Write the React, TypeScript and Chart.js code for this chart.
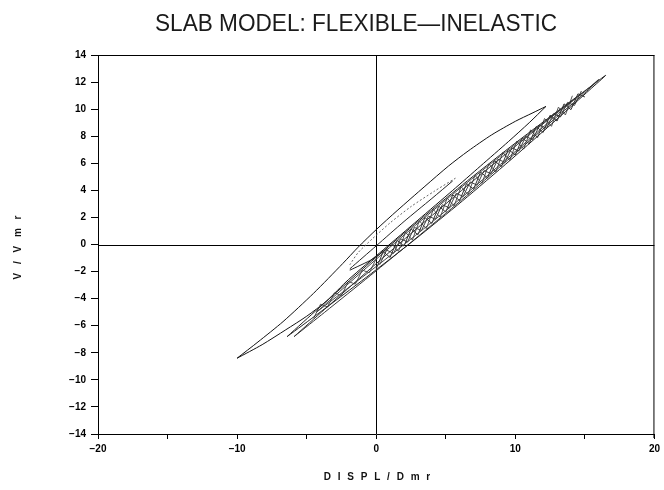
import React, { useEffect, useRef } from 'react';
import { Chart, registerables } from 'chart.js';

Chart.register(...registerables);

// ---- axis ranges / ticks ----
const xRange = [-20, 20];
const yRange = [-14, 14];
const xStep = 5;
const xLabelStep = 10;
const yStep = 2;

// ---- texts ----
const titleText = 'SLAB MODEL: FLEXIBLE\u2014INELASTIC';
const xTitle = 'D I S P L / D m r';
const yTitle = 'V / V m r';

// ---- series (DISPL/Dmr, V/Vmr) ----
const bigUpper = [
  [-10.0, -8.4], [-8.5, -7.2], [-6.7, -5.7], [-4.5, -3.6], [-2.4, -1.4], [-1.3, -0.2],
  [0.0, 1.1], [1.5, 2.5], [3.5, 4.3], [5.2, 5.8], [6.6, 6.9], [8.3, 8.1], [10.0, 9.1],
  [11.2, 9.7], [12.2, 10.2],
];
const bigReturn = [
  [12.2, 10.2], [11.0, 9.0], [9.5, 7.6], [7.5, 5.8], [5.5, 4.0], [3.0, 1.8], [0.5, -0.4],
  [-2.0, -2.6], [-3.6, -4.2], [-5.0, -5.3], [-6.5, -6.3], [-8.2, -7.4], [-10.0, -8.4],
];
const smallA = [[-1.9, -1.8], [0.0, -0.1], [2.0, 1.7], [4.0, 3.4], [5.5, 4.7]];
const smallB = [[5.7, 4.9], [4.2, 3.95], [2.5, 2.8], [1.0, 1.6], [-0.3, 0.4], [-1.3, -0.6], [-1.9, -1.5]];
const smallC = [[-1.9, -1.9], [-0.3, -1.1], [0.8, -0.3]];
const loopA = [
  [-6.4, -6.8], [-4.11, -5.06], [-0.68, -2.4], [2.76, 0.35], [6.2, 3.22], [9.63, 6.22],
  [13.07, 9.33], [15.36, 11.44], [16.5, 12.5], [15.36, 11.63], [13.07, 9.88], [9.63, 7.2],
  [6.2, 4.41], [2.76, 1.49], [-0.68, -1.55], [-4.11, -4.68], [-6.4, -6.8],
];
const loopB = [
  [-5.9, -6.8], [-3.71, -5.01], [-0.43, -2.3], [2.86, 0.47], [6.15, 3.3], [9.43, 6.22],
  [12.72, 9.19], [15.0, 11.2], [16.0, 12.2], [15.0, 11.31], [12.72, 9.51], [9.43, 6.78],
  [6.15, 4.0], [2.86, 1.13], [-0.43, -1.8], [-3.71, -4.79], [-5.9, -6.8],
];
const loopC = [
  [-4.3, -5.0], [-2.45, -3.55], [0.33, -1.36], [3.1, 0.9], [5.88, 3.24], [8.65, 5.67],
  [11.43, 8.16], [13.28, 9.85], [14.2, 10.7], [13.28, 9.98], [11.43, 8.53], [8.65, 6.31],
  [5.88, 4.03], [3.1, 1.66], [0.33, -0.79], [-2.45, -3.31], [-4.3, -5.0],
];
const zigUp = [
  [0.0, -1.8], [0.5, -0.53], [1.0, -0.96], [1.5, 0.31], [2.0, -0.12], [2.5, 1.15], [3.0, 0.72],
  [3.5, 1.99], [4.0, 1.56], [4.5, 2.83], [5.0, 2.4], [5.5, 3.67], [6.0, 3.24], [6.5, 4.51],
  [7.0, 4.08], [7.5, 5.35], [8.0, 4.92], [8.5, 6.19], [9.0, 5.76], [9.5, 7.03], [10.0, 6.6],
  [10.5, 7.87], [11.0, 7.44], [11.5, 8.71], [12.0, 8.28], [12.5, 9.55], [13.0, 9.12],
  [13.5, 10.39], [14.0, 9.96], [14.5, 11.13], [15.0, 10.9],
];
const zigDown = [
  [14.75, 11.34], [14.25, 10.27], [13.75, 10.5], [13.25, 9.43], [12.75, 9.66], [12.25, 8.59],
  [11.75, 8.82], [11.25, 7.75], [10.75, 7.98], [10.25, 6.91], [9.75, 7.14], [9.25, 6.07],
  [8.75, 6.3], [8.25, 5.23], [7.75, 5.46], [7.25, 4.39], [6.75, 4.62], [6.25, 3.55],
  [5.75, 3.78], [5.25, 2.71], [4.75, 2.94], [4.25, 1.87], [3.75, 2.1], [3.25, 1.03],
  [2.75, 1.26], [2.25, 0.19], [1.75, 0.42], [1.25, -0.65], [0.75, -0.42], [0.25, -1.49],
];
const zigMid = [
  [1.1, 0.07], [1.6, -0.51], [2.1, 0.91], [2.6, 0.33], [3.1, 1.75], [3.6, 1.17], [4.1, 2.59],
  [4.6, 2.01], [5.1, 3.43], [5.6, 2.85], [6.1, 4.27], [6.6, 3.69], [7.1, 5.11], [7.6, 4.53],
  [8.1, 5.95], [8.6, 5.37], [9.1, 6.79], [9.6, 6.21], [10.1, 7.63], [10.6, 7.05], [11.1, 8.47],
  [11.6, 7.89], [12.1, 9.31], [12.6, 8.73], [13.1, 10.15], [13.6, 9.57], [14.1, 10.99],
];
const zigLow = [
  [-4.5, -5.45], [-4.0, -4.41], [-3.5, -4.61], [-3.0, -3.57], [-2.5, -3.77], [-2.0, -2.73],
  [-1.5, -2.93], [-1.0, -1.89], [-0.5, -2.09], [0.0, -1.05],
];

const LEFT = 98;
const RIGHT_PAD = 8;
const TOP = 55;
const X_AXIS_H = 56;

function toPts(a: number[][]) {
  return a.map(([x, y]) => ({ x, y }));
}

const framePlugin = {
  id: 'frame',
  beforeDatasetsDraw(chart: any) {
    const { ctx, chartArea, scales } = chart;
    ctx.save();
    ctx.strokeStyle = '#000';
    ctx.lineWidth = 1;
    ctx.beginPath();
    ctx.moveTo(chartArea.left, chartArea.top + 0.5);
    ctx.lineTo(chartArea.right, chartArea.top + 0.5);
    ctx.moveTo(chartArea.right - 0.5, chartArea.top);
    ctx.lineTo(chartArea.right - 0.5, chartArea.bottom + 4);
    const x0 = Math.round(scales.x.getPixelForValue(0)) + 0.5;
    const y0 = Math.round(scales.y.getPixelForValue(0)) + 0.5;
    ctx.moveTo(x0, chartArea.top);
    ctx.lineTo(x0, chartArea.bottom);
    ctx.moveTo(chartArea.left, y0);
    ctx.lineTo(chartArea.right, y0);
    ctx.stroke();
    ctx.restore();
  },
  afterDraw(chart: any) {
    const { ctx } = chart;
    ctx.save();
    ctx.fillStyle = '#1a1a1a';
    ctx.font = '24px "Liberation Sans"';
    ctx.textBaseline = 'alphabetic';
    ctx.textAlign = 'left';
    const w = ctx.measureText(titleText).width;
    const target = 402;
    ctx.translate(155, 31);
    ctx.scale(target / w, 1);
    ctx.fillText(titleText, 0, 0);
    ctx.restore();

    ctx.save();
    ctx.fillStyle = '#111';
    ctx.font = 'bold 10px "Liberation Sans"';
    ctx.textAlign = 'center';
    ctx.textBaseline = 'middle';
    (ctx as any).letterSpacing = '2px';
    ctx.fillText(xTitle, 378, 477);
    (ctx as any).letterSpacing = '3px';
    ctx.translate(18, 246);
    ctx.rotate(-Math.PI / 2);
    ctx.fillText(yTitle, 0, 0);
    ctx.restore();
  },
};

function fmt(v: number) {
  return v < 0 ? '\u2212' + Math.abs(v) : String(v);
}

export default function App() {
  const ref = useRef<HTMLCanvasElement>(null);
  useEffect(() => {
    if (!ref.current) return;
    const line = (data: number[][], color = '#111', dash: number[] = [], width = 1, tension = 0.25) => ({
      data: toPts(data),
      showLine: true,
      borderColor: color,
      borderWidth: width,
      borderDash: dash,
      pointRadius: 0,
      fill: false,
      tension,
    });
    const chart = new Chart(ref.current, {
      type: 'scatter',
      data: {
        datasets: [
          line(loopA, '#222'),
          line(loopB, '#333'),
          line(loopC, '#444'),
          line(zigUp, '#333', [], 1, 0),
          line(zigDown, '#444', [], 1, 0),
          line(zigMid, '#555', [], 1, 0),
          line(zigLow, '#555', [], 1, 0),
          line(bigUpper, '#111'),
          line(bigReturn, '#111'),
          line(smallA, '#222'),
          line(smallB, '#666', [2, 2]),
          line(smallC, '#222'),
        ] as any,
      },
      options: {
        animation: false,
        responsive: false,
        devicePixelRatio: 1,
        layout: { padding: { top: TOP, right: RIGHT_PAD, left: 0, bottom: 0 } },
        plugins: { legend: { display: false }, tooltip: { enabled: false }, title: { display: false } },
        scales: {
          x: {
            type: 'linear',
            min: xRange[0],
            max: xRange[1],
            ticks: {
              stepSize: xStep,
              autoSkip: false,
              maxRotation: 0,
              padding: 4,
              color: '#000',
              font: { family: '"Liberation Sans"', size: 10, weight: 'bold' },
              callback: (v: any) => (Number(v) % xLabelStep === 0 ? fmt(Number(v)) : ''),
            },
            grid: { drawOnChartArea: false, drawTicks: true, tickLength: 5, tickColor: '#000', tickWidth: 1 },
            border: { display: true, color: '#000', width: 1 },
            afterFit: (s: any) => { s.height = X_AXIS_H; },
          },
          y: {
            type: 'linear',
            min: yRange[0],
            max: yRange[1],
            ticks: {
              stepSize: yStep,
              autoSkip: false,
              padding: 5,
              color: '#000',
              font: { family: '"Liberation Sans"', size: 10, weight: 'bold' },
              callback: (v: any) => fmt(Number(v)),
            },
            grid: { drawOnChartArea: false, drawTicks: true, tickLength: 7, tickColor: '#000', tickWidth: 1 },
            border: { display: true, color: '#000', width: 1 },
            afterFit: (s: any) => { s.width = LEFT; },
          },
        },
      } as any,
      plugins: [framePlugin],
    });
    return () => chart.destroy();
  }, []);
  return (
    <div style={{ position: 'absolute', left: 0, top: 0, width: 664, height: 490, background: '#fff' }}>
      <canvas ref={ref} width={664} height={490} style={{ display: 'block' }} />
    </div>
  );
}
